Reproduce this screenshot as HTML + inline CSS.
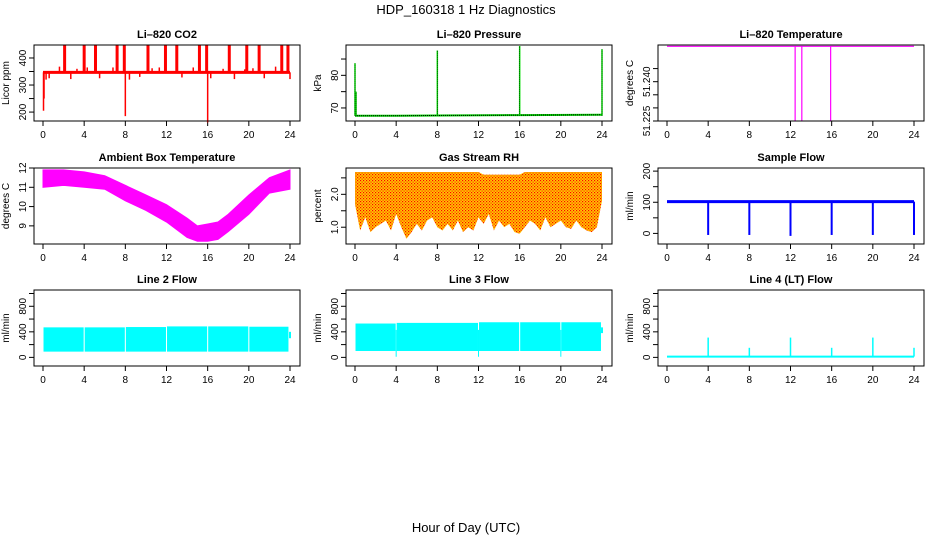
<!DOCTYPE html>
<html><head><meta charset="utf-8"><style>
body{margin:0;background:#fff;}
svg{display:block;font-family:"Liberation Sans",sans-serif;}
</style></head><body>
<svg id="chart" width="936" height="540" viewBox="0 0 936 540" xmlns="http://www.w3.org/2000/svg">
<defs>
<pattern id="rhpat" width="3" height="3" patternUnits="userSpaceOnUse">
<rect width="3" height="3" fill="#ffcc00"/><rect width="1.2" height="1.2" fill="#ff0000"/><rect x="1.5" y="1.5" width="1.2" height="1.2" fill="#ff2000"/>
</pattern>
</defs>
<text x="466" y="14" font-size="13" text-anchor="middle">HDP_160318  1 Hz Diagnostics</text>
<text x="466" y="532" font-size="13" text-anchor="middle">Hour of Day (UTC)</text>
</svg>
<script>
// ---- data ----
const hourTicks=[0,4,8,12,16,20,24];
const co2Base=347;
const co2UpHours=[2.1,4.0,5.1,7.2,7.9,10.2,11.9,13.0,15.2,15.9,18.1,19.8,21.0,23.2,23.8];
const co2UpVals=[448,448,448,448,448,448,448,448,448,448,448,448,448,448,448];
const co2SmallHours=[0.3,0.6,1.6,2.7,3.3,4.3,5.5,6.8,8.4,9.4,10.6,11.3,13.5,14.6,16.3,17.5,18.6,19.6,20.4,21.5,22.6,24];
const co2SmallVals=[320,325,368,322,360,365,325,365,320,330,362,365,328,365,325,360,322,358,362,325,368,322];
const co2DownHours=[0.05,0.1,8.0,16.0];
const co2DownVals=[205,250,185,162];
const presBase=[67.6,67.6,67.7,67.8,67.9];
const presBaseHours=[0,4,8,16,24];
const presSpikeHours=[0.0,0.1,8.0,16.0,24.0];
const presSpikeVals=[83.7,75,87.6,89,88];
const tempBase=51.2535;
const tempDropHours=[12.45,13.1,15.9];
const ambHours=[0,2,4,6,8,10,12,14,15,16,17,18,20,22,24];
const ambUpper=[11.9,11.9,11.8,11.6,11.1,10.6,10.1,9.4,9.0,9.1,9.2,9.6,10.6,11.5,11.9];
const ambLower=[11.0,11.1,11.0,10.9,10.3,9.8,9.2,8.4,8.2,8.2,8.3,8.7,9.6,10.7,10.9];
const rhLower=[1.7,0.9,1.3,0.85,1.0,1.1,1.2,0.9,1.4,1.0,0.65,0.85,1.1,0.9,1.2,1.3,1.0,0.9,1.1,0.9,1.2,0.85,1.0,0.9,1.3,1.1,1.4,0.9,1.2,1.0,1.1,0.85,0.8,1.0,1.2,1.1,0.9,1.3,1.0,1.1,1.2,1.0,0.95,1.2,1.0,0.9,0.85,1.0,1.8];
const rhTopHours=[0,12,12.5,16,16.5,24];
const rhTop=[2.68,2.68,2.6,2.6,2.68,2.68];
const sampleBase=102;
const sampleDipHours=[4,8,12,16,20,24];
const sampleDipVals=[-5,-5,-8,-5,-5,-5];
const l2SegStart=[0.05,4.05,8.05,12.05,16.05,20.05];
const l2SegEnd=[3.95,7.95,11.95,15.95,19.95,23.85];
const l2Top=[470,470,475,485,485,480];
const l2Bottom=90;
const l3SegStart=[0.05,4.05,12.05,16.05,20.05];
const l3SegEnd=[3.95,11.95,15.95,19.95,23.9];
const l3Top=[530,540,550,550,550];
const l3Bottom=100;
const l4Base=12;
const l4SpikeHours=[4,8,12,16,20,24];
const l4SpikeVals=[310,150,310,150,310,150];

// ---- layout ----
const svg=document.getElementById('chart');
const NS='http://www.w3.org/2000/svg';
const colL=[34,346,658], rowT=[45,168,290], PW=266, PH=76;
function mk(tag,attrs,parent){const e=document.createElementNS(NS,tag);for(const k in attrs)e.setAttribute(k,attrs[k]);(parent||svg).appendChild(e);return e;}

function panel(col,row,name,title,ylab,ymin,ymax,ticks,labels){
  const L=colL[col],T=rowT[row];
  const g=mk('g',{});
  
  
  const xs=h=>L+9+h*247/24;
  const ys=v=>T+PH-(v-ymin)/(ymax-ymin)*PH;
  const t=mk('text',{x:L+PW/2,y:T-7,'font-size':11,'font-weight':'bold','text-anchor':'middle'},g);
  t.textContent=title;
  
  
  const yl=mk('text',{transform:`translate(${L-25},${T+PH/2}) rotate(-90)`,'font-size':10,'text-anchor':'middle'},g);
  yl.textContent=ylab;
  
  
  const xa=mk('g',{},g);
  
  
  mk('line',{x1:xs(0),x2:xs(24),y1:T+PH,y2:T+PH,stroke:'#000'},xa);
  hourTicks.forEach(h=>{
    mk('line',{x1:xs(h),x2:xs(h),y1:T+PH,y2:T+PH+5,stroke:'#000'},xa);
    const tl=mk('text',{x:xs(h),y:T+PH+17,'font-size':10,'text-anchor':'middle'},xa);
    tl.textContent=h;
  });
  const ya=mk('g',{},g);
  
  
  mk('line',{x1:L,x2:L,y1:ys(ticks[0]),y2:ys(ticks[ticks.length-1]),stroke:'#000'},ya);
  ticks.forEach((v,i)=>{
    mk('line',{x1:L-5,x2:L,y1:ys(v),y2:ys(v),stroke:'#000'},ya);
    if(labels[i]!==''){
      const tl=mk('text',{transform:`translate(${L-8},${ys(v)}) rotate(-90)`,'font-size':10,'text-anchor':'middle'},ya);
      tl.textContent=labels[i];
    }
  });
  const data=mk('g',{},g);
  
  
  const box=mk('rect',{x:L,y:T,width:PW,height:PH,fill:'none',stroke:'#000'},g);
  
  
  return {xs,ys,g:data,T,L};
}
function vline(p,h,v1,v2,color,w){return mk('line',{x1:p.xs(h),x2:p.xs(h),y1:p.ys(v1),y2:p.ys(v2),stroke:color,'stroke-width':w||1},p.g);}

// CO2
let p=panel(0,0,'co2','Li\u2013820 CO2','Licor ppm',167,448,[200,250,300,350,400],['200','','300','','400']);
mk('line',{x1:p.xs(0),x2:p.xs(24),y1:p.ys(co2Base),y2:p.ys(co2Base),stroke:'#ff0000','stroke-width':3},p.g);
co2UpHours.forEach((h,i)=>{const l=vline(p,h,co2Base,co2UpVals[i],'#ff0000',3);});
co2SmallHours.forEach((h,i)=>vline(p,h,co2Base,co2SmallVals[i],'#ff0000',1.5));
co2DownHours.forEach((h,i)=>vline(p,h,co2Base,co2DownVals[i],'#ff0000',1.5));

// Pressure
p=panel(1,0,'pressure','Li\u2013820 Pressure','kPa',66,89.3,[70,75,80,85],['70','','80','']);
mk('polyline',{points:presBaseHours.map((h,i)=>p.xs(h)+','+p.ys(presBase[i])).join(' '),fill:'none',stroke:'#00cc00','stroke-width':2},p.g);
mk('polyline',{points:presBaseHours.map((h,i)=>p.xs(h)+','+p.ys(presBase[i])).join(' '),fill:'none',stroke:'#000','stroke-width':1,'stroke-dasharray':'1,1'},p.g);
presSpikeHours.forEach((h,i)=>{vline(p,h,presBase[0],presSpikeVals[i],'#00dd00',1.5);vline(p,h,presBase[0],presSpikeVals[i],'#000',0.6).setAttribute('stroke-dasharray','1,1');});

// Li-820 Temperature
p=panel(2,0,'li820-temperature','Li\u2013820 Temperature','degrees C',51.225,51.2540,[51.225,51.230,51.235,51.240,51.245],['51.225','','','51.240','']);
mk('line',{x1:p.xs(0),x2:p.xs(24),y1:p.ys(tempBase),y2:p.ys(tempBase),stroke:'#ff00ff','stroke-width':1.2},p.g);
tempDropHours.forEach(h=>vline(p,h,tempBase,51.225,'#ff00ff',1.2));

// Ambient
p=panel(0,1,'ambient-temperature','Ambient Box Temperature','degrees C',8.06,12.0,[9,10,11,12],['9','10','11','12']);
mk('polygon',{points:ambHours.map((h,i)=>p.xs(h)+','+p.ys(ambUpper[i])).concat(ambHours.map((h,i)=>p.xs(h)+','+p.ys(ambLower[i])).reverse()).join(' '),fill:'#ff00ff',stroke:'#ff00ff'},p.g);

// RH
p=panel(1,1,'gas-stream-rh','Gas Stream RH','percent',0.49,2.8,[1.0,1.5,2.0,2.5],['1.0','','2.0','']);
const rhPts=rhTopHours.map((h,i)=>p.xs(h)+','+p.ys(rhTop[i])).concat(rhLower.map((v,i)=>p.xs(i*0.5)+','+p.ys(v)).reverse());
mk('polygon',{points:rhPts.join(' '),fill:'url(#rhpat)'},p.g);

// Sample flow
p=panel(2,1,'sample-flow','Sample Flow','ml/min',-34,210,[0,50,100,150,200],['0','','100','','200']);
mk('line',{x1:p.xs(0),x2:p.xs(24),y1:p.ys(sampleBase),y2:p.ys(sampleBase),stroke:'#0000ff','stroke-width':3},p.g);
sampleDipHours.forEach((h,i)=>vline(p,h,sampleBase,sampleDipVals[i],'#0000ff',2));

// Line 2
p=panel(0,2,'line2-flow','Line 2 Flow','ml/min',-135,1055,[0,200,400,600,800,1000],['0','','400','','800','']);
l2SegStart.forEach((s,i)=>mk('rect',{x:p.xs(s),y:p.ys(l2Top[i]),width:p.xs(l2SegEnd[i])-p.xs(s),height:p.ys(l2Bottom)-p.ys(l2Top[i]),fill:'#00ffff'},p.g));
vline(p,24,300,400,'#00ffff',2);

// Line 3
p=panel(1,2,'line3-flow','Line 3 Flow','ml/min',-135,1055,[0,200,400,600,800,1000],['0','','400','','800','']);
l3SegStart.forEach((s,i)=>mk('rect',{x:p.xs(s),y:p.ys(l3Top[i]),width:p.xs(l3SegEnd[i])-p.xs(s),height:p.ys(l3Bottom)-p.ys(l3Top[i]),fill:'#00ffff'},p.g));
vline(p,4,430,10,'#00ffff',1);vline(p,12,430,10,'#00ffff',1);vline(p,20,430,10,'#00ffff',1);
vline(p,24,380,470,'#00ffff',2);

// Line 4
p=panel(2,2,'line4-flow','Line 4 (LT) Flow','ml/min',-135,1055,[0,200,400,600,800,1000],['0','','400','','800','']);
mk('line',{x1:p.xs(0),x2:p.xs(24),y1:p.ys(l4Base),y2:p.ys(l4Base),stroke:'#00ffff','stroke-width':2},p.g);
l4SpikeHours.forEach((h,i)=>vline(p,h,l4Base,l4SpikeVals[i],'#00ffff',1.5));
</script>
</body></html>
